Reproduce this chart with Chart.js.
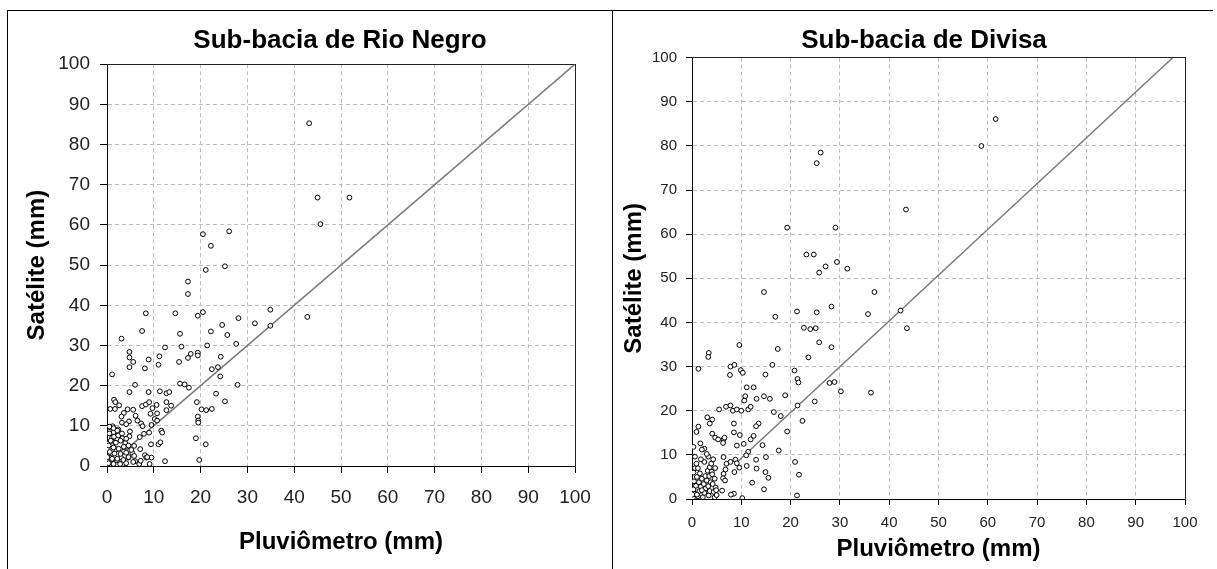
<!DOCTYPE html>
<html>
<head>
<meta charset="utf-8">
<script src="https://cdn.jsdelivr.net/npm/chart.js@4.4.1/dist/chart.umd.min.js"></script>
<style>
    html, body { margin: 0; padding: 0; background: #fff; overflow: hidden; }
    #page { position: relative; width: 1217px; height: 569px; overflow: hidden; background: #fff; }
    .rule { position: absolute; background: #000; }
    .holder { position: absolute; top: 0; }
</style>
</head>
<body>
<div id="page">
    <div class="rule" style="left:7px; top:10px; width:1206px; height:1px;"></div>
    <div class="rule" style="left:7px; top:10px; width:1px; height:559px;"></div>
    <div class="rule" style="left:612px; top:10px; width:1px; height:559px;"></div>
    <div class="holder" style="left:0;"><canvas id="rioNegro" width="680" height="569"></canvas></div>
    <div class="holder" style="left:610px;"><canvas id="divisa" width="628" height="569"></canvas></div>
</div>
<script>
// pluviômetro (x) vs satélite (y), mm
const rioNegroPoints = [
    [43.2,85.3],[45.0,66.8],[51.8,66.8],[45.6,60.2],[26.1,58.4],[20.5,57.7],[22.2,54.8],[21.1,48.8],[25.2,49.7],
    [17.3,45.9],[17.3,42.8],[34.9,38.9],[34.9,34.9],[42.8,37.1],[28.1,36.8],[31.6,35.5],[24.6,35.1],[20.5,38.3],
    [19.4,37.4],[14.6,38.0],[8.3,38.0],[7.5,33.6],[22.2,33.5],[25.7,32.6],[15.6,32.9],[3.1,31.7],[27.6,30.4],
    [15.9,29.7],[21.4,30.0],[12.4,29.5],[4.8,28.4],[4.8,27.0],[11.2,27.3],[17.9,27.9],[17.3,26.9],[19.4,28.2],
    [19.4,27.5],[24.3,27.2],[5.6,25.9],[8.9,26.5],[15.4,25.9],[11.0,25.2],[4.8,24.6],[8.1,24.3],[23.7,24.6],
    [22.4,24.1],[1.1,22.8],[24.2,22.3],[15.6,20.5],[16.6,20.3],[17.5,19.5],[27.9,20.2],[6.0,20.2],[4.8,18.4],
    [8.9,18.4],[11.3,18.6],[23.3,18.0],[12.7,18.1],[13.3,18.4],[1.5,16.5],[1.8,15.9],[2.6,15.1],[25.2,16.1],
    [19.2,15.9],[12.7,15.9],[13.7,15.0],[0.7,14.2],[1.7,14.2],[4.4,14.1],[5.6,14.0],[3.6,13.2],[7.5,14.9],
    [8.3,15.3],[9.0,15.9],[9.7,14.4],[10.6,15.2],[20.2,14.1],[22.4,14.2],[21.2,13.9],[12.7,13.9],[6.1,12.5],
    [9.3,13.0],[10.7,13.1],[3.1,12.3],[4.7,11.1],[3.2,10.8],[10.2,11.7],[6.5,11.3],[19.4,12.3],[19.5,11.3],
    [19.5,10.8],[1.2,9.9],[0.7,9.6],[4.1,10.4],[7.3,10.6],[7.6,9.9],[9.5,10.2],[10.7,11.3],[2.4,9.1],[4.9,8.6],
    [9.0,8.3],[11.6,8.8],[11.8,8.3],[1.4,8.4],[2.6,8.0],[7.9,8.0],[19.0,6.9],[21.1,5.4],[1.1,7.1],[3.3,6.9],
    [4.8,7.4],[7.0,7.2],[0.4,5.7],[1.7,5.9],[3.9,5.7],[9.4,5.4],[11.0,5.4],[11.4,5.9],[5.8,5.0],[7.1,4.2],
    [0.2,4.1],[2.0,4.1],[3.6,3.6],[4.3,4.8],[5.4,3.3],[1.1,3.0],[8.1,2.7],[8.4,2.1],[9.5,2.1],[0.6,2.1],
    [3.0,2.1],[4.6,2.1],[0.0,1.4],[2.1,1.4],[6.0,1.2],[12.4,1.2],[19.7,1.5],[1.3,0.6],[3.4,0.5],[6.9,0.5],
    [9.1,0.5],[0.1,0.5],[0.5,9.8],[1.4,9.4],[2.2,8.8],[0.5,8.1],[1.5,7.3],[2.4,7.6],[3.2,8.1],[0.8,6.3],
    [1.9,5.8],[2.9,6.3],[4.1,6.8],[0.35,5.1],[1.4,4.6],[2.5,4.3],[3.6,4.8],[4.6,5.1],[0.6,3.5],[1.6,3.1],
    [2.9,3.0],[4.1,3.3],[5.2,4.0],[0.1,2.2],[1.1,1.8],[2.2,1.8],[3.5,1.5],[4.6,2.2],[5.8,2.5],[0.35,0.7],
    [1.4,0.5],[2.8,0.5],[4.1,0.7],[5.6,1.0],[7.2,1.3],[8.6,2.2]
];
const rioNegroLine = [[4.2, 4.2], [100, 100]];

const divisaPoints = [
    [61.6,86.1],[58.7,80.0],[26.1,78.5],[25.3,76.1],[43.4,65.6],[19.3,61.5],[29.1,61.5],[23.2,55.4],[24.7,55.4],
    [29.4,53.7],[27.1,52.7],[31.5,52.2],[25.8,51.3],[37.0,46.9],[14.6,46.9],[35.7,41.9],[21.3,42.5],[25.3,42.3],
    [42.3,42.7],[28.3,43.6],[16.9,41.3],[22.7,38.8],[24.0,38.5],[25.1,38.7],[43.6,38.7],[25.8,35.5],[9.6,34.9],
    [28.3,34.4],[17.4,34.0],[3.4,33.1],[3.3,32.2],[23.6,32.1],[1.3,29.5],[20.8,29.1],[16.3,30.4],[7.8,30.0],
    [8.6,30.4],[9.9,29.2],[10.3,28.6],[7.7,28.1],[14.9,28.2],[21.4,27.2],[21.6,26.4],[27.9,26.3],[28.9,26.5],
    [30.2,24.4],[36.3,24.1],[11.1,25.3],[12.5,25.3],[10.8,23.3],[10.6,22.3],[13.1,22.7],[14.6,23.3],[15.8,22.7],
    [18.9,23.5],[24.9,22.1],[21.4,21.2],[6.9,20.9],[7.8,21.2],[8.3,20.0],[9.1,20.3],[10.0,20.0],[11.4,20.3],
    [11.9,20.9],[5.5,20.3],[16.6,19.7],[18.0,18.8],[22.4,17.7],[17.6,11.0],[3.1,18.5],[4.1,18.0],[3.6,17.1],
    [8.5,17.1],[13.5,17.1],[13.0,16.5],[1.3,16.4],[0.9,15.2],[4.1,14.8],[8.5,15.1],[19.3,15.3],[4.7,13.9],
    [5.3,13.5],[6.4,13.5],[6.6,13.9],[9.7,14.5],[12.5,14.3],[11.9,13.5],[10.5,12.5],[9.1,12.1],[14.3,12.2],
    [6.3,12.7],[1.7,12.6],[0.3,11.8],[2.5,11.4],[11.4,10.7],[11.0,9.9],[15.0,9.5],[6.4,9.5],[13.0,8.9],
    [8.8,8.9],[9.1,8.1],[20.9,8.4],[7.0,8.0],[7.8,8.4],[11.1,7.5],[13.1,6.9],[9.6,7.1],[6.8,6.7],[8.6,6.1],
    [14.9,6.1],[21.7,5.5],[6.4,5.7],[15.5,4.8],[6.3,4.7],[6.7,4.2],[12.2,3.7],[6.1,1.9],[14.6,2.2],[8.5,1.2],
    [7.9,1.0],[21.3,0.8],[10.2,0.2],
    [0.2,0.3],[0.5,1.2],[0.3,2.2],[0.8,3.0],[0.4,4.0],[1.0,5.0],[0.3,6.0],[0.6,7.0],[1.2,0.6],[1.5,1.8],
    [1.8,2.8],[1.4,3.8],[2.0,4.6],[1.6,5.8],[1.2,7.0],[2.2,0.4],[2.5,1.4],[2.8,2.4],[2.4,3.4],[3.0,4.2],
    [2.7,5.2],[3.2,6.4],[2.5,8.4],[1.8,9.0],[3.4,0.8],[3.6,1.8],[3.3,2.9],[3.8,3.8],[3.5,5.2],[4.0,6.2],
    [3.6,7.2],[3.9,8.0],[3.3,9.6],[4.3,9.0],[4.6,0.4],[4.4,1.6],[4.8,2.6],[4.2,3.4],[4.6,4.6],[4.1,5.6],
    [4.7,7.0],[3.0,10.2],[2.0,11.2],[0.9,8.0],[0.1,1.0],[1.0,1.0],[2.0,2.0],[0.6,9.6],[5.0,0.9],[4.9,2.0]
];
const divisaLine = [[8.8, 8.0], [97.5, 100]];

const axisMin = 0;
const axisMax = 100;
const axisStep = 10;
const xTitle = 'Pluviômetro (mm)';
const yTitle = 'Satélite (mm)';

const FONT = "'Liberation Sans', Arial, sans-serif";

function toXY(pairs) {
    return pairs.map(p => ({ x: p[0], y: p[1] }));
}

function frameAxis(pos, size) {
    return {
        type: 'linear',
        position: pos,
        min: axisMin,
        max: axisMax,
        ticks: { display: false },
        grid: { display: false, drawTicks: false },
        border: { display: true, color: '#222', width: 1 },
        afterFit: function (s) {
            if (pos === 'top') s.height = size; else s.width = size;
        }
    };
}

function renderScatter(canvasId, o) {
    const canvas = document.getElementById(canvasId);
    const tickFont = { family: FONT, size: o.tickSize };
    const titleFont = { family: FONT, size: 24, weight: 'bold' };
    const grid = { color: '#bdbdbd', lineWidth: 1, tickColor: '#000', tickLength: o.tickLen };
    const border = { color: '#000', width: 1, dash: [4, 3] };

    return new Chart(canvas.getContext('2d'), {
        type: 'scatter',
        data: {
            datasets: [{
                type: 'line',
                data: toXY(o.line),
                borderColor: '#7a7a7a',
                borderWidth: 1.5,
                pointRadius: 0,
                order: 2
            }, {
                data: toXY(o.points),
                pointRadius: 2.4,
                borderWidth: 1,
                borderColor: '#000',
                backgroundColor: '#fff',
                order: 1
            }]
        },
        options: {
            responsive: false,
            animation: false,
            plugins: {
                legend: { display: false },
                tooltip: { enabled: false },
                title: {
                    display: true,
                    text: o.title,
                    color: '#000',
                    font: { family: FONT, size: 26, weight: 'bold' },
                    padding: { top: 25, bottom: o.titleGap }
                }
            },
            scales: {
                x: {
                    type: 'linear',
                    min: axisMin,
                    max: axisMax,
                    ticks: { stepSize: axisStep, color: '#222', font: tickFont, padding: o.xTickPad, maxRotation: 0, autoSkip: false },
                    grid: grid,
                    border: border,
                    title: { display: true, text: xTitle, color: '#000', font: titleFont, padding: { top: 0, bottom: o.xTitlePad } },
                    afterFit: function (s) { s.height = o.xHeight; }
                },
                y: {
                    type: 'linear',
                    min: axisMin,
                    max: axisMax,
                    ticks: { stepSize: axisStep, color: '#222', font: tickFont, padding: o.yTickPad },
                    grid: grid,
                    border: border,
                    title: { display: true, text: yTitle, color: '#000', font: titleFont, padding: { top: o.yTitlePad, bottom: 0 } },
                    afterFit: function (s) { s.width = o.yWidth; }
                },
                x2: frameAxis('top', 0),
                y2: frameAxis('right', o.rightGap)
            }
        }
    });
}

renderScatter('rioNegro', {
    title: 'Sub-bacia de Rio Negro',
    points: rioNegroPoints,
    line: rioNegroLine,
    tickSize: 19,
    tickLen: 7,
    titleGap: 8,
    xTickPad: 13,
    xTitlePad: 12,
    xHeight: 103,
    yTickPad: 10,
    yTitlePad: 23,
    yWidth: 107,
    rightGap: 105
});

renderScatter('divisa', {
    title: 'Sub-bacia de Divisa',
    points: divisaPoints,
    line: divisaLine,
    tickSize: 15,
    tickLen: 6,
    titleGap: 1.5,
    xTickPad: 9,
    xTitlePad: 5,
    xHeight: 70,
    yTickPad: 9,
    yTitlePad: 10,
    yWidth: 82,
    rightGap: 53
});
</script>
</body>
</html>
